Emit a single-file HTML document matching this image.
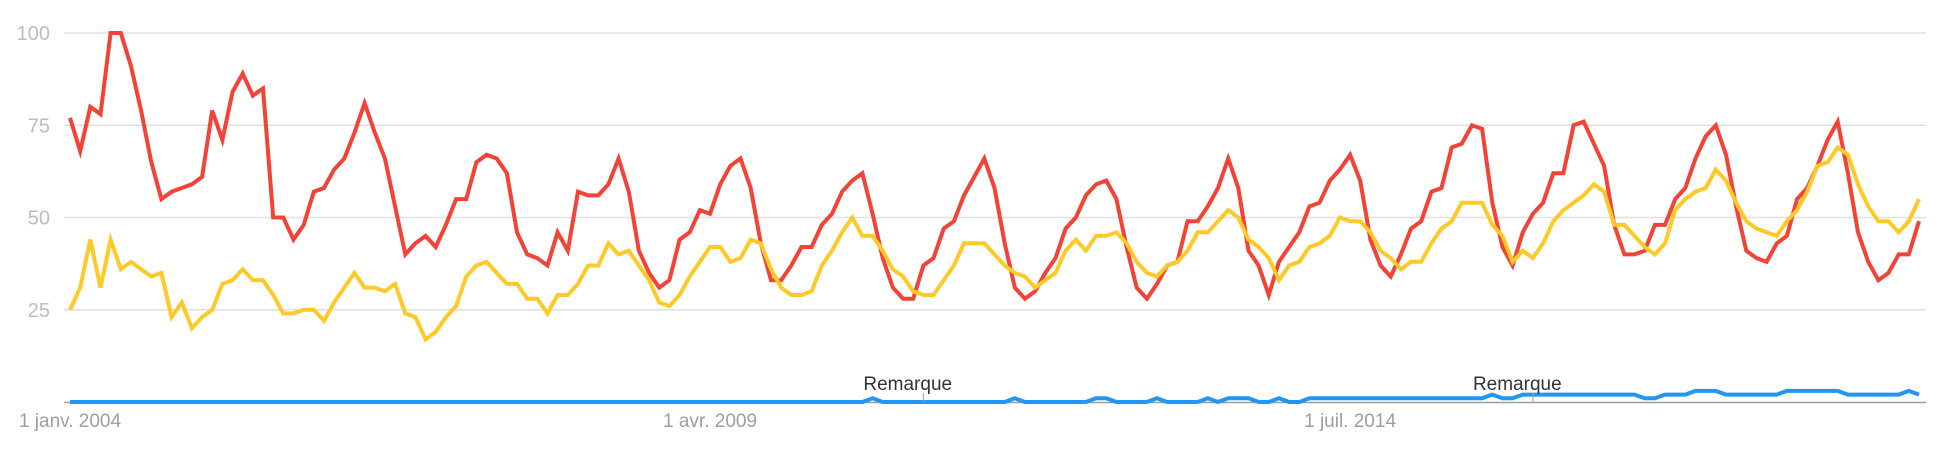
<!DOCTYPE html>
<html><head><meta charset="utf-8"><style>
html,body{margin:0;padding:0;background:#fff;}
svg{display:block;font-family:"Liberation Sans",Arial,sans-serif;}
</style></head><body>
<svg id="chart" width="1942" height="455" viewBox="0 0 1942 455" xmlns="http://www.w3.org/2000/svg">
<g id="grid"></g>
<g id="ylabels"></g>
<g id="xlabels"></g>
<g id="series"></g>
<g id="notes"></g>
</svg>
<script>
const yTicks = [100, 75, 50, 25];
const xLabels = ["1 janv. 2004", "1 avr. 2009", "1 juil. 2014"];
const xLabelIdx = [0, 63, 126];
const noteIdx = [84, 144];
const redValues = [77,68,80,78,100,100,91,79,65,55,57,58,59,61,79,71,84,89,83,85,50,50,44,
48,57,58,63,66,73,81,73,66,53,40,43,45,42,48,55,55,65,67,66,62,46,40,39,37,46,41,57,56,
56,59,66,57,41,35,31,33,44,46,52,51,59,64,66,58,43,33,33,37,42,42,48,51,57,60,
62,51,39,31,28,28,37,39,47,49,56,61,66,58,43,31,28,30,35,39,47,50,56,59,60,55,
42,31,28,32,37,38,49,49,53,58,66,58,41,37,29,38,42,46,53,54,60,63,67,60,44,
37,34,40,47,49,57,58,69,70,75,74,54,42,37,46,51,54,62,62,75,76,70,64,48,40,40,41,
48,48,55,58,66,72,75,67,53,41,39,38,43,45,55,58,64,71,76,62,46,38,33,35,40,40,49];
const yellowValues = [25,31,44,31,44,36,38,36,34,35,23,27,20,23,25,32,33,36,33,33,29,24,24,
25,25,22,27,31,35,31,31,30,32,24,23,17,19,23,26,34,37,38,35,32,32,28,28,24,29,29,32,37,
37,43,40,41,37,33,27,26,29,34,38,42,42,38,39,44,43,36,31,29,29,30,37,41,46,50,
45,45,41,36,34,30,29,29,33,37,43,43,43,40,37,35,34,31,33,35,41,44,41,45,45,46,
43,38,35,34,37,38,41,46,46,49,52,50,44,42,39,33,37,38,42,43,45,50,49,49,46,
41,39,36,38,38,43,47,49,54,54,54,48,45,38,41,39,43,49,52,54,56,59,57,48,48,45,42,
40,43,52,55,57,58,63,60,54,49,47,46,45,49,52,57,64,65,69,67,59,53,49,49,46,49,55];
const blueValues = [0,0,0,0,0,0,0,0,0,0, 0,0,0,0,0,0,0,0,0,0, 0,0,0,0,0,0,0,0,0,0,
0,0,0,0,0,0,0,0,0,0, 0,0,0,0,0,0,0,0,0,0, 0,0,0,0,0,0,0,0,0,0, 0,0,0,0,0,0,0,0,0,0,
0,0,0,0,0,0,0,0,0,1, 0,0,0,0,0,0,0,0,0,0, 0,0,0,1,0,0,0,0,0,0,
0,1,1,0,0,0,0,1,0,0, 0,0,1,0,1,1,1,0,0,1, 0,0,1,1,1,1,1,1,1,1,
1,1,1,1,1,1,1,1,1,1, 2,1,1,2,2,2,2,2,2,2, 2,2,2,2,2,1,1,2,2,2,
3,3,3,2,2,2,2,2,2,3, 3,3,3,3,3,2,2,2,2,2, 2,3,2];

const NS = "http://www.w3.org/2000/svg";
const X0 = 70, X1 = 1919, N = redValues.length;
function xScale(i){ return X0 + i * (X1 - X0) / (N - 1); }
function yScale(v){ return 402 - v * 3.69; }
function mk(tag, attrs, parent){ const e = document.createElementNS(NS, tag); for (const k in attrs) e.setAttribute(k, attrs[k]); parent.appendChild(e); return e; }

const grid = document.getElementById('grid');
const yl = document.getElementById('ylabels');
yTicks.forEach(v => {
  const l = mk('line', {x1:64, x2:1926, y1:yScale(v), y2:yScale(v), stroke:'#e0e0e0', 'stroke-width':1.5}, grid);
  
  
  const t = mk('text', {x:50, y:yScale(v)+7, 'text-anchor':'end', 'font-size':20, fill:'#bdbdbd'}, yl);
  t.textContent = v;
  
  
});
const base = mk('line', {x1:64, x2:1926, y1:402.5, y2:402.5, stroke:'#9e9e9e', 'stroke-width':1.5}, grid);



const xl = document.getElementById('xlabels');
xLabels.forEach((s, k) => {
  const t = mk('text', {x:xScale(xLabelIdx[k]), y:427, 'text-anchor':'middle', 'font-size':19, fill:'#9e9e9e'}, xl);
  t.textContent = s;
  
  
});

const notes = document.getElementById('notes');
noteIdx.forEach(i => {
  const x = xScale(i);
  const ln = mk('line', {x1:x, x2:x, y1:393, y2:402, stroke:'#9e9e9e', 'stroke-width':1}, notes);
  
  
  const t = mk('text', {x:x-60, y:390, 'font-size':19, fill:'#333'}, notes);
  t.textContent = 'Remarque';
  
  
});

const series = document.getElementById('series');
function drawLine(vals, color, name){
  const pts = vals.map((v,i) => xScale(i).toFixed(1) + ',' + yScale(v).toFixed(1)).join(' ');
  const p = mk('polyline', {points:pts, fill:'none', stroke:color, 'stroke-width':4, 'stroke-linejoin':'miter'}, series);
  
  
}
drawLine(redValues, '#f44336', 'red-series-line');
drawLine(yellowValues, '#ffca28', 'yellow-series-line');
drawLine(blueValues, '#2196f3', 'blue-series-line');
</script>
</body></html>
